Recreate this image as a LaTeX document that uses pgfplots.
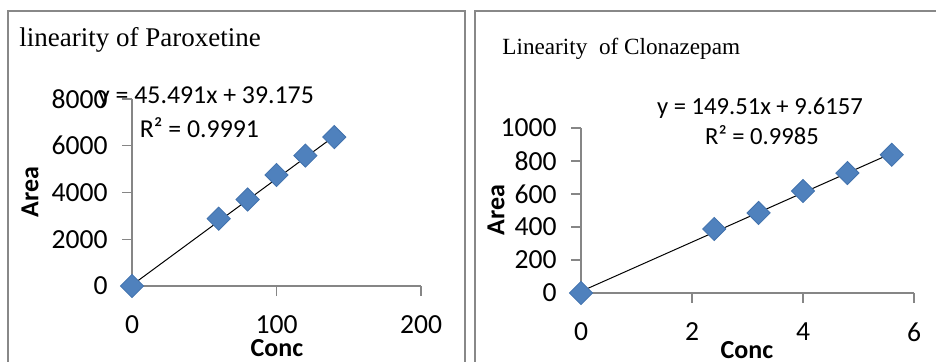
\documentclass[border=0pt]{standalone}
\usepackage{pgfplots}
\pgfplotsset{compat=1.18}
\usepackage{fontspec}
\setmainfont{Carlito}
\newfontfamily\titlefont{Liberation Serif}
\definecolor{frame}{HTML}{888888}
\definecolor{axisgray}{HTML}{868686}
\definecolor{mk}{HTML}{4F81BD}
\definecolor{mkedge}{HTML}{4272AD}
\pgfplotsset{
  excel/.style={
    scale only axis, clip=false,
    axis lines=left, axis line style={-, axisgray, line width=0.6bp},
    tick align=outside, major tick length=5bp,
    tick style={axisgray, line width=0.6bp},
    /pgf/number format/assume math mode=true,
    /pgf/number format/1000 sep={},
    tick label style={font=\fontsize{13.8bp}{16bp}\selectfont, inner sep=0pt},
    xticklabel style={anchor=north, yshift=-9.5bp},
    yticklabel style={anchor=east, xshift=-7bp},
  },
  pts/.style={only marks, mark=square*, mark size=4.1bp,
    mark options={rotate=45, fill=mk, draw=mkedge, line width=0.4bp}},
  trend/.style={no marks, black, line width=0.5bp},
}
\begin{document}
\begin{tikzpicture}
\useasboundingbox (0,0) rectangle (468bp,181bp);
% panel frames
\draw[frame, line width=1.3bp] (4bp,0) -- (4bp,175.5bp) -- (232.5bp,175.5bp) -- (232.5bp,0);
\draw[frame, line width=1.3bp] (237.5bp,0) -- (237.5bp,175.5bp) -- (470bp,175.5bp);
% left chart
\begin{axis}[excel, at={(66bp,38bp)}, anchor=south west,
  width=144.5bp, height=93.5bp,
  xmin=0, xmax=200, ymin=0, ymax=8000,
  xtick={0,100,200}, ytick={0,2000,4000,6000,8000}]
\addplot[pts] coordinates {(0,0) (60,2880) (80,3700) (100,4750) (120,5580) (140,6370)};
\addplot[trend] coordinates {(0,39.175) (140,6407.9)};
\end{axis}
% right chart
\begin{axis}[excel, at={(290.5bp,34.5bp)}, anchor=south west,
  width=166.5bp, height=82.5bp,
  xmin=0, xmax=6, ymin=0, ymax=1000,
  xtick={0,2,4,6}, ytick={0,200,400,600,800,1000}]
\addplot[pts] coordinates {(0,0) (2.4,388) (3.2,485) (4,618) (4.8,727) (5.6,838)};
\addplot[trend] coordinates {(0,9.6157) (5.6,846.87)};
\end{axis}
% titles
\node[anchor=base west, inner sep=0pt, font=\titlefont\fontsize{13.5bp}{16bp}\selectfont] at (9.5bp,157.5bp) {linearity of Paroxetine};
\node[anchor=base west, inner sep=0pt, font=\titlefont\fontsize{11.6bp}{14bp}\selectfont] at (251bp,153.5bp) {Linearity\ \ of Clonazepam};
% equations
\node[anchor=base, inner sep=0pt, font=\fontsize{12.9bp}{15bp}\selectfont] at (103bp,129bp) {y = 45.491x + 39.175};
\node[anchor=base, inner sep=0pt, font=\fontsize{12.9bp}{15bp}\selectfont] at (99.75bp,112bp) {R² = 0.9991};
\node[anchor=base, inner sep=0pt, font=\fontsize{12.3bp}{15bp}\selectfont] at (380bp,123.5bp) {y = 149.51x + 9.6157};
\node[anchor=base, inner sep=0pt, font=\fontsize{12.3bp}{15bp}\selectfont] at (381bp,108.5bp) {R² = 0.9985};
% axis labels
\node[rotate=90, inner sep=0pt, font=\bfseries\fontsize{13bp}{15bp}\selectfont] at (15bp,85bp) {Area};
\node[rotate=90, inner sep=0pt, font=\bfseries\fontsize{13bp}{15bp}\selectfont] at (248bp,76bp) {Area};
\node[anchor=base, inner sep=0pt, font=\bfseries\fontsize{13bp}{15bp}\selectfont] at (138.5bp,3bp) {Conc};
\node[anchor=base, inner sep=0pt, font=\bfseries\fontsize{13bp}{15bp}\selectfont] at (373.5bp,2bp) {Conc};
\end{tikzpicture}
\end{document}
